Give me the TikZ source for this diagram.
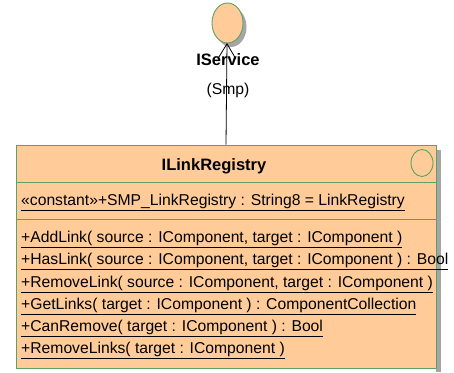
\documentclass[tikz,border=0pt]{standalone}
\usepackage{fontspec}
\setmainfont{Liberation Sans}
\usetikzlibrary{arrows.meta}

\definecolor{umlfill}{RGB}{255,204,153}
\definecolor{umledge}{RGB}{95,160,100}
\definecolor{umlshadow}{RGB}{165,165,165}

\begin{document}
\begin{tikzpicture}[x=1pt, y=-1pt]

\tikzstyle{label}=[inner sep=0pt, font=\fontsize{15.7}{18}\selectfont]
\tikzstyle{member}=[label, anchor=west]
\tikzstyle{classbox}=[draw=umledge, line width=0.9pt, fill=umlfill, rectangle,
inner sep=0pt, minimum width=420pt, minimum height=223pt]

\useasboundingbox (0,0) rectangle (454,372);

% lollipop for the provided interface
\fill[umlshadow] (231,27) ellipse [x radius=15.5pt, y radius=20pt];
\draw[umledge, line width=0.9pt, fill=umlfill] (227.5,23) ellipse [x radius=15.5pt, y radius=20pt];
\coordinate (iservice) at (227,43);
\node[label, font=\fontsize{16.5}{18}\selectfont\bfseries] (iname) at (228,60) {IService};
\node[label] (ipkg) at (228,90) {(Smp)};

% class body
\fill[umlshadow] (441,150) rectangle (436,372);
\node[classbox] (registry) at (226,256.5) {};
\draw[umledge, line width=0.9pt] (registry.west |- 0,182) -- (registry.east |- 0,182);
\draw[umledge, line width=0.9pt] (registry.west |- 0,219) -- (registry.east |- 0,219);
\draw[umledge, line width=0.9pt] (422,163) ellipse [x radius=11pt, y radius=13.5pt];

\node[label, font=\fontsize{16.5}{18}\selectfont\bfseries] (title) at (214,166) {ILinkRegistry};
\node[member] (const) at (21,202) {\underline{«constant»+SMP\_LinkRegistry : String8 = LinkRegistry}};

\node[member] (addlink) at (21,239) {\underline{+AddLink( source : IComponent, target : IComponent )}};
\node[member] (haslink) at (21,261) {\underline{+HasLink( source : IComponent, target : IComponent ) : Bool}};
\node[member] (removelink) at (21,284) {\underline{+RemoveLink( source : IComponent, target : IComponent )}};
\node[member] (getlinks) at (21,306) {\underline{+GetLinks( target : IComponent ) : ComponentCollection}};
\node[member] (canremove) at (21,328) {\underline{+CanRemove( target : IComponent ) : Bool}};
\node[member] (removelinks) at (21,350) {\underline{+RemoveLinks( target : IComponent )}};

% realization of IService
\draw[line width=0.8pt, -{Straight Barb[length=15pt, width=18pt]}] (registry.north) -- (iservice);

\end{tikzpicture}
\end{document}
